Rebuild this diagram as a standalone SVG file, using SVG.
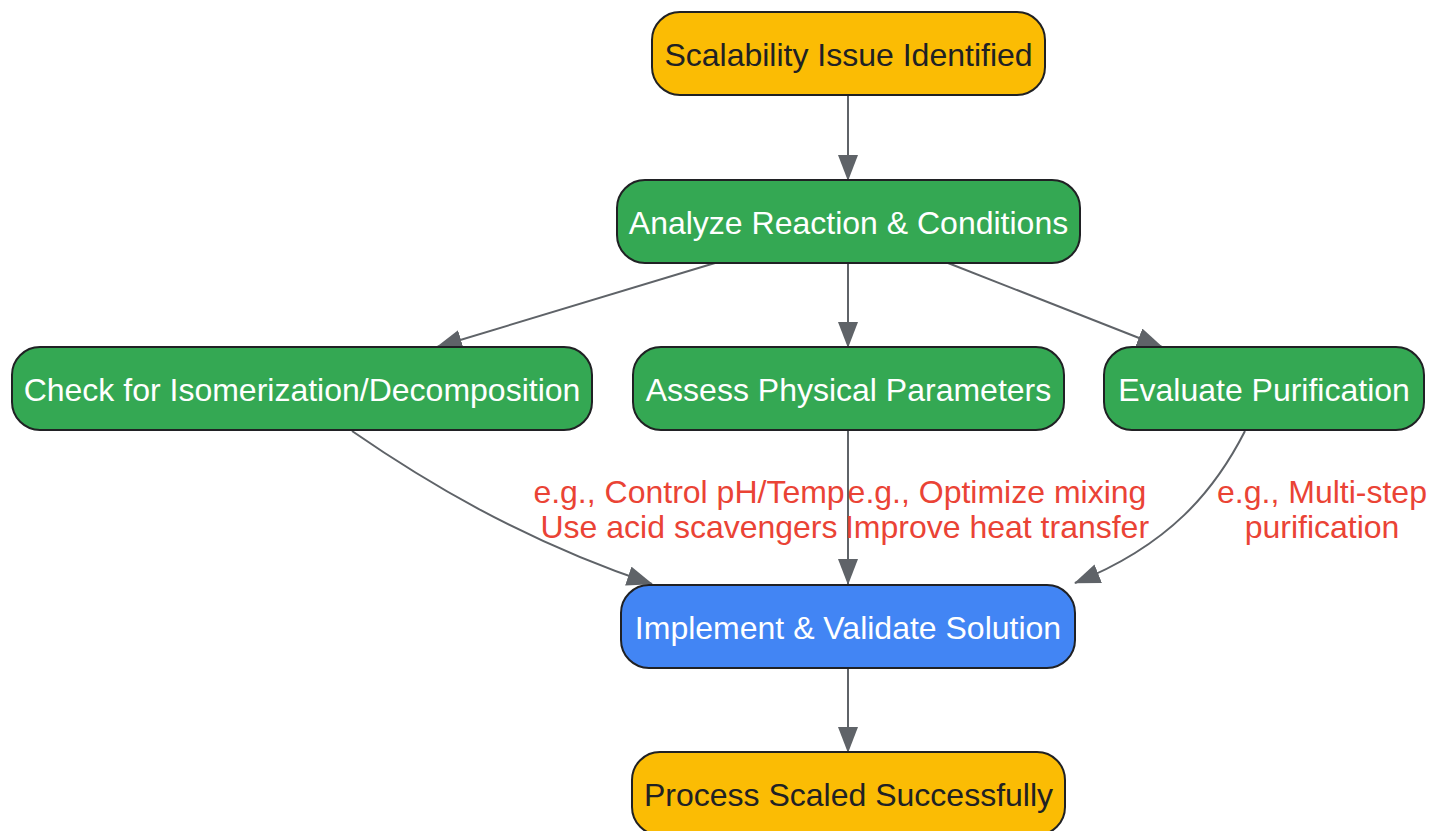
<svg xmlns="http://www.w3.org/2000/svg" width="1431" height="831" viewBox="0 0 1431 831">
<style>
.node rect{stroke:#202124;stroke-width:2}
.t{font-family:"Liberation Sans",Arial,sans-serif;font-size:32px;text-anchor:middle}
.dark{fill:#202124}
.light{fill:#ffffff}
.edge{fill:none;stroke:#5f6368;stroke-width:2;marker-end:url(#arr)}
.lbl{font-family:"Liberation Sans",Arial,sans-serif;font-size:32px;text-anchor:middle;fill:#EA4335}
</style>
<defs>
<marker id="arr" viewBox="0 0 26 20" refX="25" refY="10" markerWidth="26" markerHeight="20" markerUnits="userSpaceOnUse" orient="auto">
<path d="M0,0 L26,10 L0,20 z" fill="#5f6368"/>
</marker>
</defs>
<rect width="1431" height="831" fill="#ffffff"/>
<g id="connectors">
<path class="edge" d="M848,95 L848,180"/>
<path class="edge" d="M715,263 L437,347"/>
<path class="edge" d="M848,263 L848,347"/>
<path class="edge" d="M948,263 L1162,347"/>
<path class="edge" d="M352,431 C420,478 520,540 652,584"/>
<path class="edge" d="M848,430 L848,584"/>
<path class="edge" d="M1245,431 C1215,490 1170,545 1075,583"/>
<path class="edge" d="M848,668 L848,752"/>
</g>
<g id="labels">
<text class="lbl" x="689" y="503">e.g., Control pH/Temp</text>
<text class="lbl" x="689" y="538">Use acid scavengers</text>
<text class="lbl" x="997" y="503">e.g., Optimize mixing</text>
<text class="lbl" x="997" y="538">Improve heat transfer</text>
<text class="lbl" x="1322" y="503">e.g., Multi-step</text>
<text class="lbl" x="1322" y="538">purification</text>
</g>
<g id="n1" class="node">
<rect x="652" y="12" width="393" height="83" rx="28" fill="#FBBC04"/>
<text class="t dark" x="848.5" y="66">Scalability Issue Identified</text>
</g>
<g id="n2" class="node">
<rect x="617" y="180" width="463" height="83" rx="28" fill="#34A853"/>
<text class="t light" x="848.5" y="234">Analyze Reaction &amp; Conditions</text>
</g>
<g id="n3" class="node">
<rect x="12" y="347" width="580" height="83" rx="28" fill="#34A853"/>
<text class="t light" x="302" y="401">Check for Isomerization/Decomposition</text>
</g>
<g id="n4" class="node">
<rect x="633" y="347" width="431" height="83" rx="28" fill="#34A853"/>
<text class="t light" x="848.5" y="401">Assess Physical Parameters</text>
</g>
<g id="n5" class="node">
<rect x="1104" y="347" width="320" height="83" rx="28" fill="#34A853"/>
<text class="t light" x="1264" y="401">Evaluate Purification</text>
</g>
<g id="n6" class="node">
<rect x="621" y="585" width="454" height="83" rx="28" fill="#4285F4"/>
<text class="t light" x="848" y="639">Implement &amp; Validate Solution</text>
</g>
<g id="n7" class="node">
<rect x="632" y="752" width="433" height="83" rx="28" fill="#FBBC04"/>
<text class="t dark" x="848.5" y="806">Process Scaled Successfully</text>
</g>
</svg>
